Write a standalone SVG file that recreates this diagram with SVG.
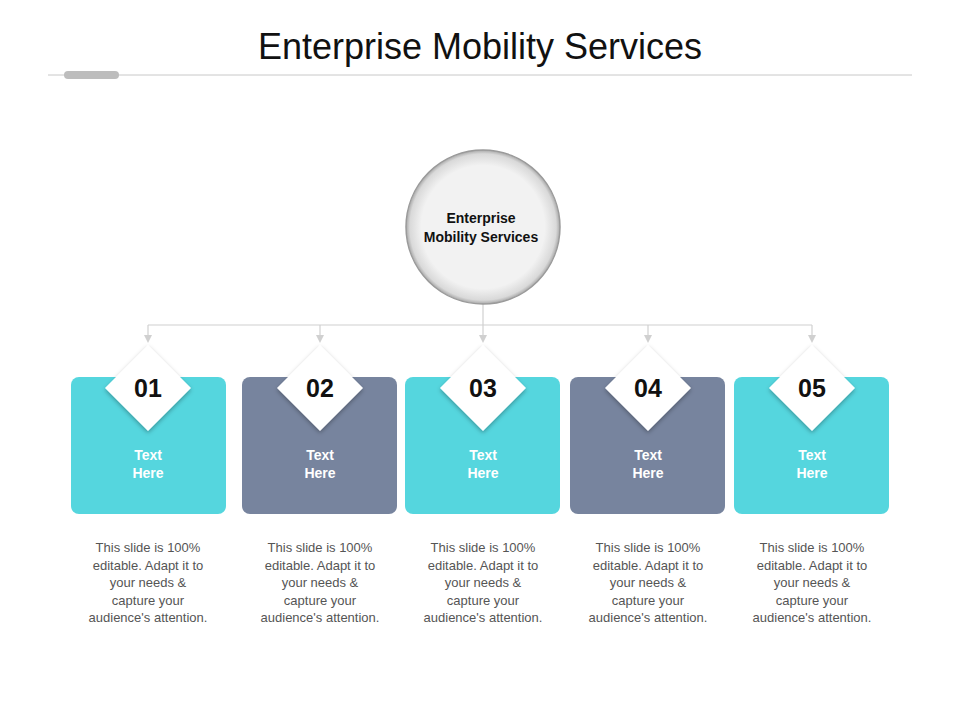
<svg xmlns="http://www.w3.org/2000/svg" width="960" height="720" viewBox="0 0 960 720">
<defs>
<radialGradient id="cg" cx="0.5" cy="0.5" r="0.5"><stop offset="0.8" stop-color="#f2f2f2"/><stop offset="0.95" stop-color="#d9d9d9"/><stop offset="1" stop-color="#a8a8a8"/></radialGradient>
<filter id="sh" x="-30%" y="-30%" width="160%" height="160%"><feDropShadow dx="0" dy="2" stdDeviation="2" flood-color="#000" flood-opacity="0.3"/></filter>
<marker id="ar" markerWidth="8" markerHeight="8" refX="4" refY="4" orient="auto" markerUnits="userSpaceOnUse"><path d="M0,0 L8,4 L0,8 z" fill="#d0d0d0"/></marker>
</defs>
<style>
.t{font-family:"Liberation Sans",Arial,sans-serif}
.teal{fill:#55d6de}.slate{fill:#77849e}
.num{font-size:25px;font-weight:bold;fill:#111;text-anchor:middle}
.bt{font-size:14px;font-weight:bold;fill:#fff;text-anchor:middle}
.d{font-size:13px;fill:#555;text-anchor:middle}
.cn{stroke:#d0d0d0;stroke-width:1.2;fill:none}
</style>
<rect width="960" height="720" fill="#fff"/>
<g id="title">
<text class="t" x="480" y="59" font-size="36" text-anchor="middle" fill="#111">Enterprise Mobility Services</text>
<line x1="48" y1="75" x2="912" y2="75" stroke="#c8c8c8" stroke-width="1"/>
<rect x="64" y="71" width="55" height="8" rx="4" fill="#bdbdbd"/>
</g>
<g id="connectors">
<line class="cn" x1="483" y1="304" x2="483" y2="325"/>
<line class="cn" x1="148" y1="325" x2="812" y2="325"/>
<line class="cn" x1="148" y1="325" x2="148" y2="339" marker-end="url(#ar)"/>
<line class="cn" x1="320" y1="325" x2="320" y2="339" marker-end="url(#ar)"/>
<line class="cn" x1="483" y1="325" x2="483" y2="339" marker-end="url(#ar)"/>
<line class="cn" x1="648" y1="325" x2="648" y2="339" marker-end="url(#ar)"/>
<line class="cn" x1="812" y1="325" x2="812" y2="339" marker-end="url(#ar)"/>
</g>
<g id="center">
<circle cx="483" cy="227" r="77" fill="url(#cg)" stroke="#9a9a9a" stroke-width="1.5"/>
<text class="t" x="481" y="223" font-size="14" font-weight="bold" text-anchor="middle" fill="#111">Enterprise</text>
<text class="t" x="481" y="242" font-size="14" font-weight="bold" text-anchor="middle" fill="#111">Mobility  Services</text>
</g>
<g id="n1" class="t">
<rect class="teal" x="71" y="377" width="155" height="137" rx="8"/>
<path d="M148,345 L191,388 L148,431 L105,388 z" fill="#fff" filter="url(#sh)"/>
<text class="num" x="148" y="397">01</text>
<text class="bt" x="148" y="460">Text</text><text class="bt" x="148" y="478">Here</text>
<text class="d" x="148" y="552">This slide is 100%</text><text class="d" x="148" y="570">editable. Adapt it to</text><text class="d" x="148" y="587">your needs &amp;</text><text class="d" x="148" y="605">capture your</text><text class="d" x="148" y="622">audience's attention.</text>
</g>
<g id="n2" class="t">
<rect class="slate" x="242" y="377" width="155" height="137" rx="8"/>
<path d="M320,345 L363,388 L320,431 L277,388 z" fill="#fff" filter="url(#sh)"/>
<text class="num" x="320" y="397">02</text>
<text class="bt" x="320" y="460">Text</text><text class="bt" x="320" y="478">Here</text>
<text class="d" x="320" y="552">This slide is 100%</text><text class="d" x="320" y="570">editable. Adapt it to</text><text class="d" x="320" y="587">your needs &amp;</text><text class="d" x="320" y="605">capture your</text><text class="d" x="320" y="622">audience's attention.</text>
</g>
<g id="n3" class="t">
<rect class="teal" x="405" y="377" width="155" height="137" rx="8"/>
<path d="M483,345 L526,388 L483,431 L440,388 z" fill="#fff" filter="url(#sh)"/>
<text class="num" x="483" y="397">03</text>
<text class="bt" x="483" y="460">Text</text><text class="bt" x="483" y="478">Here</text>
<text class="d" x="483" y="552">This slide is 100%</text><text class="d" x="483" y="570">editable. Adapt it to</text><text class="d" x="483" y="587">your needs &amp;</text><text class="d" x="483" y="605">capture your</text><text class="d" x="483" y="622">audience's attention.</text>
</g>
<g id="n4" class="t">
<rect class="slate" x="570" y="377" width="155" height="137" rx="8"/>
<path d="M648,345 L691,388 L648,431 L605,388 z" fill="#fff" filter="url(#sh)"/>
<text class="num" x="648" y="397">04</text>
<text class="bt" x="648" y="460">Text</text><text class="bt" x="648" y="478">Here</text>
<text class="d" x="648" y="552">This slide is 100%</text><text class="d" x="648" y="570">editable. Adapt it to</text><text class="d" x="648" y="587">your needs &amp;</text><text class="d" x="648" y="605">capture your</text><text class="d" x="648" y="622">audience's attention.</text>
</g>
<g id="n5" class="t">
<rect class="teal" x="734" y="377" width="155" height="137" rx="8"/>
<path d="M812,345 L855,388 L812,431 L769,388 z" fill="#fff" filter="url(#sh)"/>
<text class="num" x="812" y="397">05</text>
<text class="bt" x="812" y="460">Text</text><text class="bt" x="812" y="478">Here</text>
<text class="d" x="812" y="552">This slide is 100%</text><text class="d" x="812" y="570">editable. Adapt it to</text><text class="d" x="812" y="587">your needs &amp;</text><text class="d" x="812" y="605">capture your</text><text class="d" x="812" y="622">audience's attention.</text>
</g>
</svg>
